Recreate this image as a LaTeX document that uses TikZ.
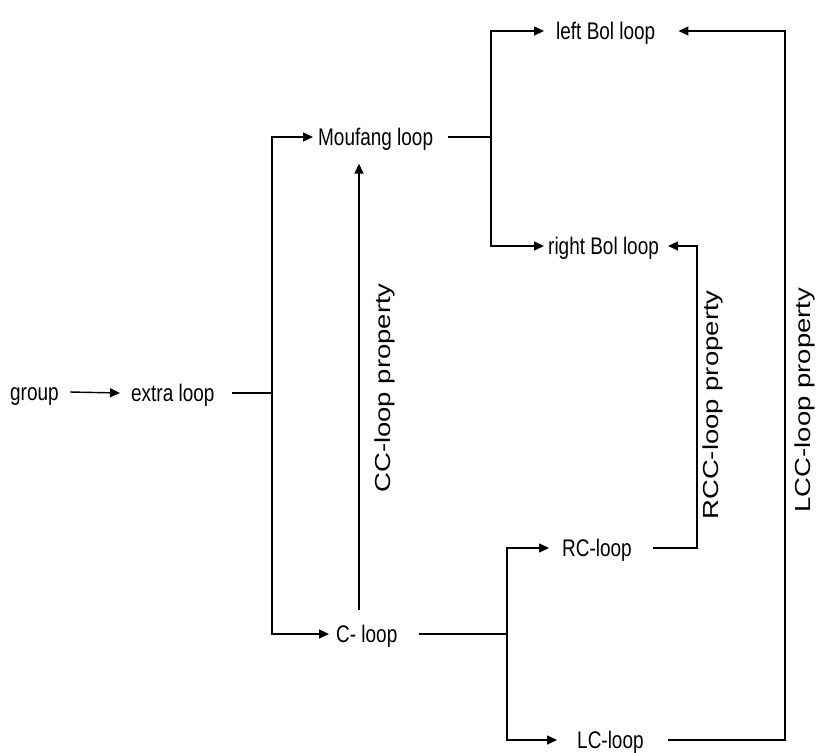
\documentclass[tikz,border=0pt]{standalone}
\usepackage{fontspec}
\setmainfont{Liberation Sans}
\usetikzlibrary{arrows.meta,calc}
\newcommand\hlab[1]{\scalebox{0.79}[1]{#1}}
\newcommand\vlab[1]{\scalebox{1}[0.79]{#1}}
\begin{document}
\begin{tikzpicture}[x=1pt,y=-1pt,
  lbl/.style={inner sep=0pt, anchor=west, font=\fontsize{24}{28}\selectfont, text height=17pt, text depth=0pt},
  vlbl/.style={inner sep=0pt, rotate=90, font=\fontsize{27.5}{32}\selectfont},
  conn/.style={line width=1.4pt},
  arr/.style={conn, -{Triangle[length=10pt,width=9pt]}}]
\useasboundingbox (0,0) rectangle (816,752);
\fill[white] (0,0) rectangle (816,752);
% nodes
\node[lbl] (group) at (10,392) {\hlab{group}};
\node[lbl] (extra) at (131,393) {\hlab{extra loop}};
\node[lbl] (moufang) at (318,137) {\hlab{Moufang loop}};
\node[lbl] (leftbol) at (556,31) {\hlab{left Bol loop}};
\node[lbl] (rightbol) at (548,246) {\hlab{right Bol loop}};
\node[lbl] (rc) at (562,548) {\hlab{RC-loop}};
\node[lbl] (cl) at (336,634) {\hlab{C- loop}};
\node[lbl] (lc) at (577,740) {\hlab{LC-loop}};
\node[vlbl] (ccp) at (385,388) {\vlab{CC-loop property}};
\node[vlbl] (rccp) at (713,405) {\vlab{RCC-loop property}};
\node[vlbl] (lccp) at (805,400) {\vlab{LCC-loop property}};
% junctions
\coordinate (jA) at (272,394);
\coordinate (jB) at (491,138);
\coordinate (jC) at (507,636);
\coordinate (xR) at (697,0);
\coordinate (xL) at (785,0);
\coordinate (xCC) at (359,0);
% connectors
\draw[arr] ([xshift=11pt]group.east) -- ([xshift=-11pt]extra.west);
\draw[conn] ([xshift=17pt]extra.east) -- (extra.east -| jA);
\draw[arr] (jA) |- ([xshift=-5pt]moufang.west);
\draw[arr] (jA) |- ([xshift=-7pt]cl.west);
\draw[conn] ([xshift=15pt]moufang.east) -- (moufang.east -| jB);
\draw[arr] (jB) |- ([xshift=-12pt]leftbol.west);
\draw[arr] (jB) |- ([xshift=-4pt]rightbol.west);
\draw[conn] ([xshift=21pt]cl.east) -- (cl.east -| jC);
\draw[arr] (jC) |- ([xshift=-13pt]rc.west);
\draw[arr] (jC) |- ([xshift=-20pt]lc.west);
\draw[arr] ([xshift=21pt]rc.east) -| (xR |- rightbol.east) -- ([xshift=9pt]rightbol.east);
\draw[arr] ([xshift=24pt]lc.east) -| (xL |- leftbol.east) -- ([xshift=23pt]leftbol.east);
\draw[arr] ($(xCC |- cl.north)+(0,-15)$) -- ($(xCC |- moufang.south)+(0,18)$);
\end{tikzpicture}
\end{document}
